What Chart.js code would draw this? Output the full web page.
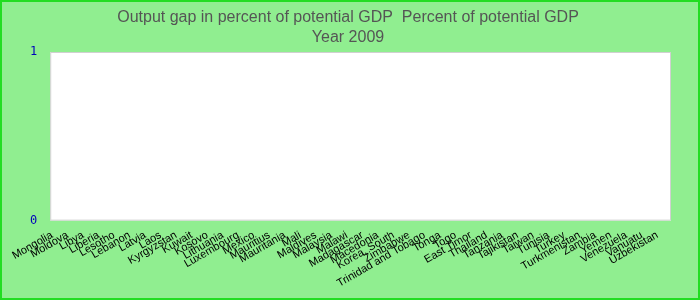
<!DOCTYPE html>
<html>
<head>
<meta charset="utf-8">
<script src="https://cdn.jsdelivr.net/npm/chart.js@4"></script>
<style>
  html, body { margin: 0; padding: 0; background: #90ee90; }
  #wrap { width: 700px; height: 300px; }
</style>
</head>
<body>
<div id="wrap"><canvas id="gapChart" width="700" height="300"></canvas></div>
<script>
const countries = ["Mongolia", "Moldova", "Libya", "Liberia", "Lesotho", "Lebanon", "Latvia", "Laos",
    "Kyrgyzstan", "Kuwait", "Kosovo", "Lithuania", "Luxembourg", "Mexico", "Mauritius", "Mauritania",
    "Mali", "Maldives", "Malaysia", "Malawi", "Madagascar", "Macedonia", "Korea, South", "Zimbabwe",
    "Trinidad and Tobago", "Tonga", "Togo", "East Timor", "Thailand", "Tanzania", "Tajikistan", "Taiwan",
    "Tunisia", "Turkey", "Turkmenistan", "Zambia", "Yemen", "Venezuela", "Vanuatu", "Uzbekistan"];
// no values shown for 2009 in the reference
const gapValues = countries.map(() => null);
const yTicks = [0, 1];

const backdrop = {
    id: 'backdrop',
    beforeDraw(chart) {
        const { ctx, chartArea: a, width, height } = chart;
        ctx.save();
        ctx.fillStyle = '#90ee90';
        ctx.fillRect(0, 0, width, height);
        ctx.strokeStyle = '#22dd22';
        ctx.lineWidth = 2;
        ctx.strokeRect(1, 1, width - 2, height - 2);
        ctx.fillStyle = '#ffffff';
        ctx.fillRect(a.left, a.top, a.right - a.left, a.bottom - a.top);
        ctx.strokeStyle = '#d0d0d0';
        ctx.lineWidth = 1;
        ctx.strokeRect(a.left + 0.5, a.top + 0.5, a.right - a.left - 1, a.bottom - a.top - 1);
        ctx.restore();
    }
};

new Chart(document.getElementById('gapChart'), {
    type: 'bar',
    data: {
        labels: countries,
        datasets: [{
            label: 'Output gap',
            data: gapValues,
            backgroundColor: '#3366cc'
        }]
    },
    options: {
        responsive: false,
        animation: false,
        layout: { padding: { left: 25, right: 29, top: 2, bottom: 10 } },
        plugins: {
            legend: { display: false },
            tooltip: { enabled: false },
            title: {
                display: true,
                text: ['Output gap in percent of potential GDP  Percent of potential GDP', 'Year 2009'],
                color: '#555555',
                font: { family: 'Liberation Sans', size: 16, weight: 'normal', lineHeight: 1.25 },
                padding: { top: 6, bottom: 4 }
            }
        },
        scales: {
            x: {
                grid: { display: false },
                border: { display: false },
                ticks: {
                    autoSkip: false,
                    minRotation: 30,
                    maxRotation: 30,
                    labelOffset: -6,
                    color: '#000000',
                    padding: 0,
                    font: { family: 'Liberation Sans', size: 11 }
                }
            },
            y: {
                min: 0,
                max: 1,
                afterBuildTicks: axis => { axis.ticks = yTicks.map(v => ({ value: v })); },
                grid: { display: false },
                border: { display: false },
                ticks: {
                    color: '#0000bb',
                    padding: 5,
                    font: { family: 'DejaVu Sans Mono', size: 12 }
                }
            }
        }
    },
    plugins: [backdrop]
});
</script>
</body>
</html>
